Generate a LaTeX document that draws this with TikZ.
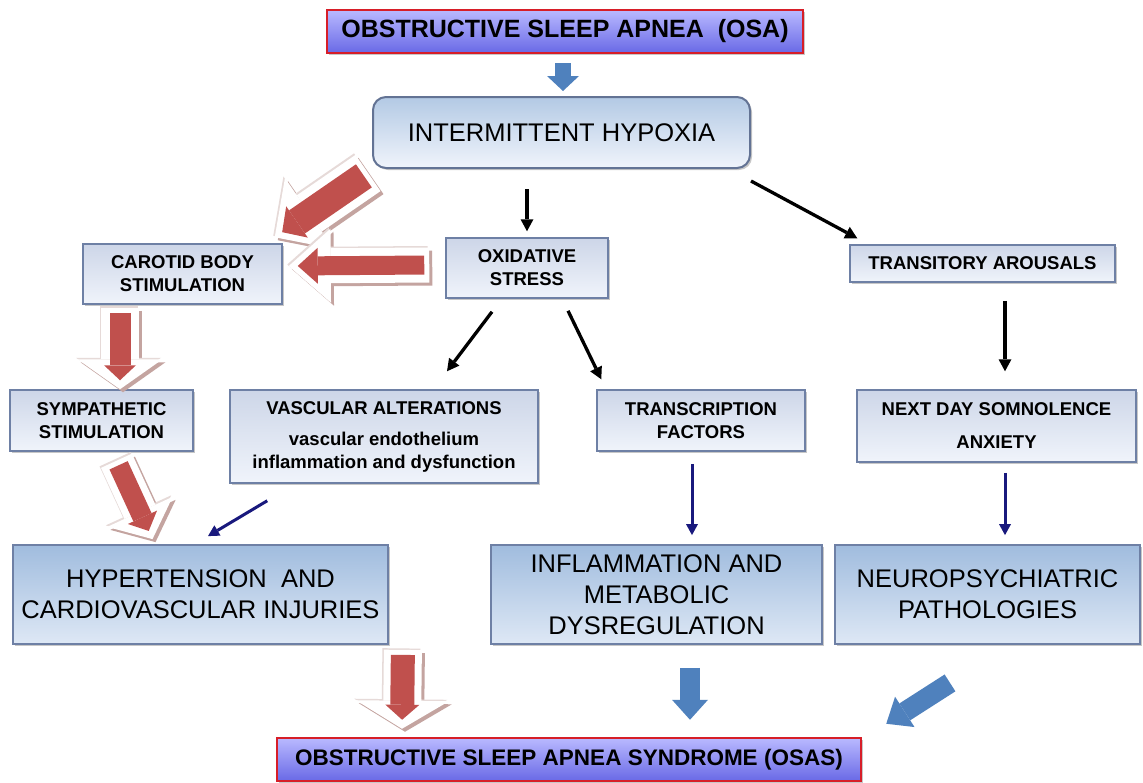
\documentclass[tikz,border=0pt]{standalone}
\usepackage{fontspec}
\setmainfont{Liberation Sans}
\usetikzlibrary{arrows.meta,calc,shadows}
\definecolor{arrred}{RGB}{192,80,77}
\definecolor{arrblue}{RGB}{79,129,189}
\definecolor{shadowpink}{RGB}{196,164,160}
\definecolor{edgepink}{RGB}{230,218,216}
\definecolor{navy}{RGB}{25,25,125}
\definecolor{boxborder}{RGB}{110,128,165}
\definecolor{smalltop}{RGB}{205,214,232}
\definecolor{smallbot}{RGB}{240,244,251}
\definecolor{bigtop}{RGB}{160,188,222}
\definecolor{bigbot}{RGB}{222,232,245}
\definecolor{titletop}{RGB}{185,185,255}
\definecolor{titlebot}{RGB}{105,105,230}
\definecolor{titleborder}{RGB}{215,30,40}
\tikzset{
  boxshadow/.style={drop shadow={shadow xshift=2pt,shadow yshift=-2pt,fill=black,opacity=0.22}},
  smallbox/.style={draw=boxborder, line width=1.5pt, top color=smalltop, bottom color=smallbot,
    font=\bfseries\fontsize{18.5}{23}\selectfont, align=center, inner sep=0pt, boxshadow},
  bigbox/.style={draw=boxborder, line width=1.8pt, top color=bigtop, bottom color=bigbot,
    font=\fontsize{25.5}{31}\selectfont, align=center, inner sep=0pt, boxshadow},
  titlebox/.style={draw=titleborder, line width=2.5pt, top color=titletop, bottom color=titlebot,
    font=\bfseries, align=center, inner sep=0pt, boxshadow},
  hypoxbox/.style={draw=boxborder!90!black, line width=2pt, rounded corners=13pt, top color=bigtop!80, bottom color=smallbot,
    font=\fontsize{25.5}{31}\selectfont, align=center, inner sep=0pt, boxshadow},
  blkarrow/.style={draw=black, line width=3.3pt, -{Triangle[width=13pt,length=12pt,line width=0pt]}},
  navyarrow/.style={draw=navy, line width=3pt, -{Triangle[width=12pt,length=11pt,line width=0pt]}},
  bluearrow/.style n args={3}{draw=arrblue, line width=#1, -{Triangle[width=#2,length=#3,line width=0pt]}},
  redarrow/.style n args={6}{draw=arrred, line width=#1, shorten >=9pt, shorten <=5pt,
    -{Triangle[width=#2,length=#3,line width=0pt]},
    preaction={draw=shadowpink, line width=#4, shorten >=0pt, shorten <=0pt,
      transform canvas={shift={(3pt,-3pt)}}, -{Triangle[width=#5,length=#6,line width=0pt]}},
    preaction={draw=edgepink, line width=#4, shorten >=0pt, shorten <=0pt,
      transform canvas={shift={(-1.5pt,1.5pt)}}, -{Triangle[width=#5,length=#6,line width=0pt]}},
    preaction={draw=white, line width=#4, shorten >=0pt, shorten <=0pt,
      -{Triangle[width=#5,length=#6,line width=0pt]}}}
}
\begin{document}
\begin{tikzpicture}[x=1pt,y=-1pt]
\useasboundingbox[fill=white] (0,0) rectangle (1143,782);

% nodes
\node[titlebox, minimum width=476pt, minimum height=43pt, font=\bfseries\fontsize{25}{30}\selectfont] (osa) at (565,31.5) {OBSTRUCTIVE SLEEP APNEA\ \ (OSA)};
\node[hypoxbox, minimum width=377pt, minimum height=71pt] (ih) at (561.5,132.5) {INTERMITTENT HYPOXIA};
\node[smallbox, minimum width=199pt, minimum height=60pt] (cb) at (182.5,274) {CAROTID BODY\\STIMULATION};
\node[smallbox, minimum width=162pt, minimum height=60pt] (ox) at (527,268) {OXIDATIVE\\STRESS};
\node[smallbox, minimum width=265pt, minimum height=37pt] (ta) at (982.5,263.5) {TRANSITORY AROUSALS};
\node[smallbox, minimum width=183pt, minimum height=61pt] (ss) at (101.5,420.5) {SYMPATHETIC\\STIMULATION};
\node[smallbox, minimum width=308pt, minimum height=93pt] (va) at (384,436.5) {VASCULAR ALTERATIONS\\[8pt]vascular endothelium\\inflammation and dysfunction};
\node[smallbox, minimum width=208pt, minimum height=61pt] (tf) at (701,420.5) {TRANSCRIPTION\\FACTORS};
\node[smallbox, minimum width=279pt, minimum height=72pt] (nd) at (996.5,426) {NEXT DAY SOMNOLENCE\\[10pt]ANXIETY};
\node[bigbox, minimum width=375pt, minimum height=99pt] (ht) at (200.5,594.5) {HYPERTENSION\ \ AND\\CARDIOVASCULAR INJURIES};
\node[bigbox, minimum width=331pt, minimum height=99pt] (inf) at (656.5,594.5) {INFLAMMATION AND\\METABOLIC\\DYSREGULATION};
\node[bigbox, minimum width=305pt, minimum height=99pt] (np) at (987.5,594.5) {NEUROPSYCHIATRIC\\PATHOLOGIES};
\node[titlebox, minimum width=584pt, minimum height=43pt, font=\bfseries\fontsize{22.5}{27}\selectfont] (osas) at (569,759.5) {OBSTRUCTIVE SLEEP APNEA SYNDROME (OSAS)};

% blue block arrows
\draw[bluearrow={16pt}{32pt}{15pt}] ($(osa.south)+(-2,9)$) -- ($(ih.north)+(1.5,-5)$);
\draw[bluearrow={20pt}{36pt}{20pt}] ($(inf.south)+(33.5,23)$) -- ($(osas.north)+(121,-17)$);
\draw[bluearrow={20pt}{36pt}{22pt}] ($(np.south)+(-37.5,38)$) -- ($(osas.north east)+(24,-13)$);

% black arrows
\draw[blkarrow] ($(ih.south -| ox.north)+(0,20)$) -- ($(ox.north)+(0,-6)$);
\draw[blkarrow] ($(ih.south east)+(0,12)$) -- ($(ta.north west)+(8,-6)$);
\draw[blkarrow] ($(ox.south)+(-35,13)$) -- ($(va.north)+(63,-18)$);
\draw[blkarrow] ($(ox.south)+(41,12)$) -- ($(tf.north west)+(5,-10)$);
\draw[blkarrow] ($(ta.south)+(22.5,18)$) -- ($(nd.north)+(8.5,-18)$);

% navy arrows
\draw[navyarrow] ($(tf.south)+(-9,12)$) -- ($(inf.north)+(35.5,-9)$);
\draw[navyarrow] ($(nd.south)+(8.5,10)$) -- ($(np.north)+(17.5,-9)$);
\draw[navyarrow] ($(va.south west)+(38,17)$) -- ($(ht.north)+(7.5,-8)$);

% red block arrows (red arrow inside a white, shadowed arrow)
\draw[redarrow={28pt}{38pt}{18pt}{44pt}{86pt}{42pt}] ($(ih.south west)+(-4,4)$) -- ($(cb.north east)+(-8,-6)$);
\draw[redarrow={19pt}{36pt}{20pt}{35pt}{74pt}{42pt}] ($(ox.west)+(-16,-3)$) -- ($(cb.east)+(6,-8)$);
\draw[redarrow={21pt}{32pt}{15pt}{38pt}{85pt}{30pt}] ($(cb.south)+(-62.5,3)$) -- ($(ss.north)+(18.5,0)$);
\draw[redarrow={20pt}{32pt}{15pt}{34pt}{72pt}{30pt}] ($(ss.south)+(15,9)$) -- ($(ht.north)+(-48,-5)$);
\draw[redarrow={24pt}{34pt}{15pt}{38pt}{93pt}{28pt}] ($(ht.south east)+(14,5)$) -- ($(osas.north)+(-167,-8)$);
\end{tikzpicture}
\end{document}
